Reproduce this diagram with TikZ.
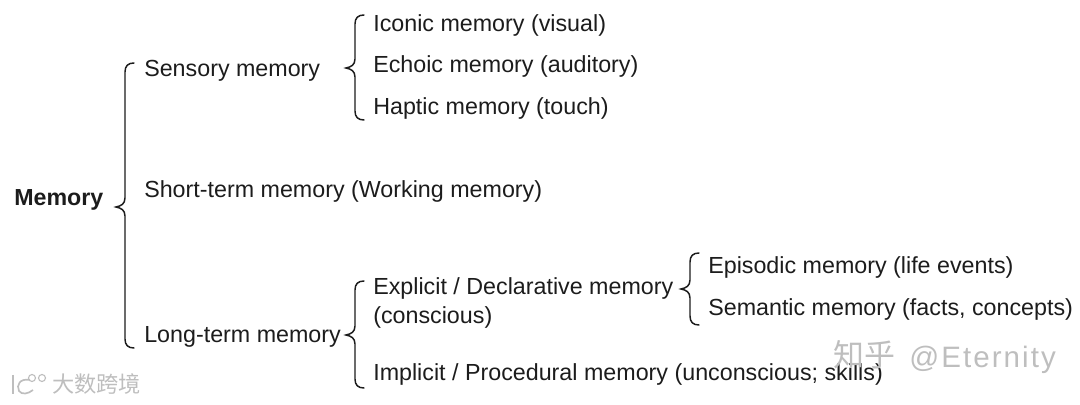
\documentclass[tikz,border=0pt]{standalone}
\usepackage{fontspec}
\setmainfont{Liberation Sans}
\newfontfamily\cjkwm{Noto Sans CJK SC}
\definecolor{inkc}{HTML}{1C1C1C}
\definecolor{markc}{HTML}{BEBEBE}
\tikzstyle{item} = [anchor=base west, inner sep=0pt, text=inkc, font=\fontsize{16.55}{20}\selectfont]
\tikzstyle{wmark} = [anchor=base west, inner sep=0pt, text=markc]
\tikzstyle{curly} = [draw=inkc, line width=1.05pt, line cap=round]

\begin{document}
\begin{tikzpicture}[x=0.025cm, y=-0.025cm]
    \useasboundingbox (0,0) rectangle (1080,405);
    % Nodes
    \node[item, font=\fontsize{16.5}{20}\selectfont\bfseries] (memory) at (14,206) {Memory};
    \node[item] (sensory) at (144,77) {Sensory memory};
    \node[item] (short) at (144,198) {Short-term memory (Working memory)};
    \node[item] (long) at (144,343) {Long-term memory};
    \node[item] (iconic) at (373,32) {Iconic memory (visual)};
    \node[item] (echoic) at (373,73) {Echoic memory (auditory)};
    \node[item] (haptic) at (373,115) {Haptic memory (touch)};
    \node[item] (explicit) at (373,295) {Explicit / Declarative memory};
    \node[item] (conscious) at (373,324) {(conscious)};
    \node[item] (implicit) at (373,381) {Implicit / Procedural memory (unconscious; skills)};
    \node[item] (episodic) at (708,274) {Episodic memory (life events)};
    \node[item] (semantic) at (708,316) {Semantic memory (facts, concepts)};
    % Braces
    \foreach \x/\t/\m/\b/\r in {125/63/207/348/9, 355/15/68/120/9, 355/281/335/388/9, 690/253/289/325/9} {
      \draw[curly] (\x+\r,\t) .. controls (\x+3,\t) and (\x,\t+3) .. (\x,\t+\r)
        -- (\x,\m-\r) .. controls (\x,\m-3) and (\x-4,\m-1) .. (\x-\r,\m)
        .. controls (\x-4,\m+1) and (\x,\m+3) .. (\x,\m+\r)
        -- (\x,\b-\r) .. controls (\x,\b-3) and (\x+3,\b) .. (\x+\r,\b);
    }
    % Watermarks
    \node[wmark, font=\cjkwm\fontsize{15.8}{18}\selectfont] (dashu) at (52,393) {大数跨境};
    \node[wmark, font=\cjkwm\fontsize{22}{26}\selectfont] (zhihu) at (833,367) {知乎};
    \node[wmark, font=\addfontfeature{LetterSpace=7}\fontsize{21}{25}\selectfont] (eternity) at (909,368) {@Eternity};
    \draw[markc, line width=1.3pt] (13,375) -- (13,394);
    \draw[markc, line width=1.2pt] (30,380) .. controls (20,378) and (16,385) .. (19,391) .. controls (22,395) and (28,394) .. (33,390);
    \draw[markc, line width=0.8pt] (32,378) circle (3.5);
    \draw[markc, line width=0.8pt] (42,378) circle (3.5);
  \end{tikzpicture}
\end{document}
